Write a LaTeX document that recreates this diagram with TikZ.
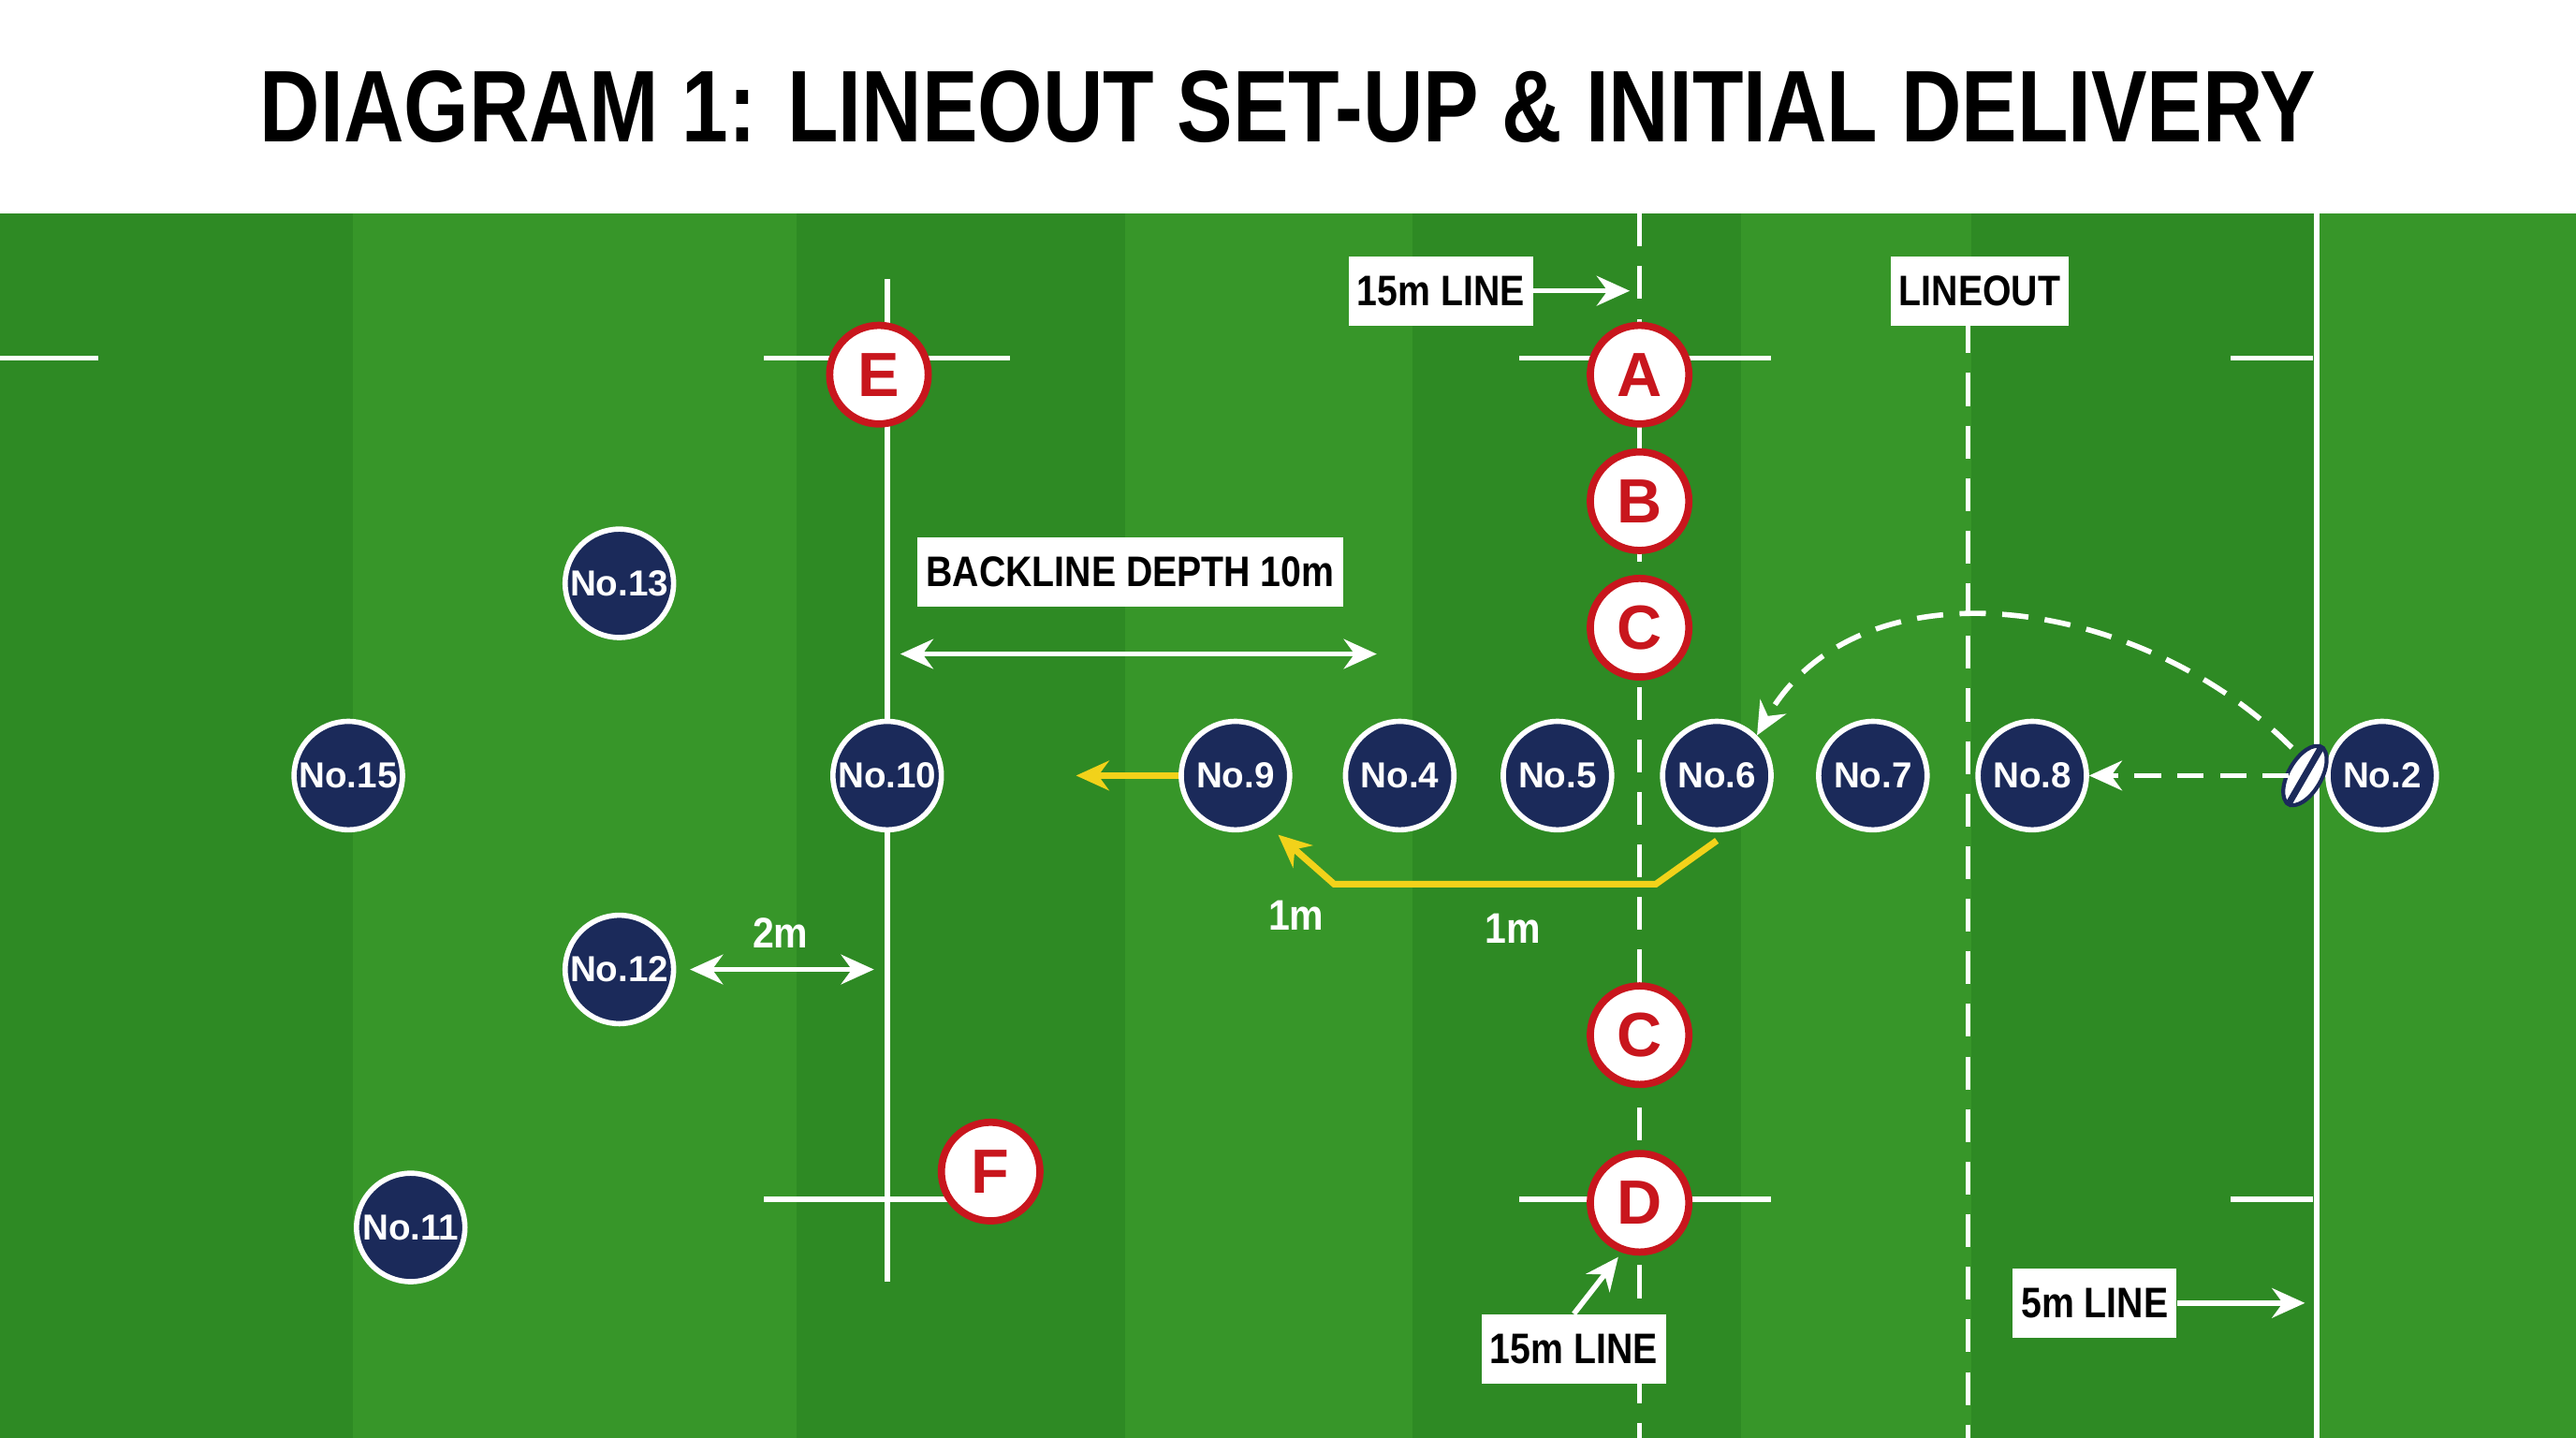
\documentclass[tikz,border=0pt]{standalone}
\usepackage{fontspec}
\setmainfont{Liberation Sans}
\usetikzlibrary{arrows.meta,shapes.geometric}
\definecolor{gA}{HTML}{2E8A24}
\definecolor{gB}{HTML}{379629}
\definecolor{navy}{HTML}{1B2A5A}
\definecolor{rred}{HTML}{C8161D}
\definecolor{yel}{HTML}{F2D21A}
\begin{document}
\begin{tikzpicture}[x=0.5pt,y=-0.5pt,
 red/.style={circle,draw=rred,line width=2.2pt,fill=white,minimum size=30pt,inner sep=0pt,text=rred,font=\bfseries\fontsize{19}{19}\selectfont},
 pl/.style={circle,draw=white,line width=1.6pt,fill=navy,minimum size=33pt,inner sep=0pt,text=white,font=\bfseries\fontsize{11}{11}\selectfont},
 lab/.style={fill=white,inner sep=3pt,minimum height=21pt,font=\bfseries\fontsize{13}{13}\selectfont,xscale=0.86},
 wl/.style={white,line width=1.6pt},
 wa/.style={white,line width=1.6pt,-{Stealth[length=10pt,width=9pt]}},
 ya/.style={yel,line width=2pt,-{Stealth[length=10pt,width=9pt]}}]
\useasboundingbox (0,0) rectangle (1568,875);
\fill[white] (0,0) rectangle (1568,130);
\node[font=\bfseries\fontsize{31}{31}\selectfont,xscale=0.82] (title) at (784,65) {DIAGRAM 1: LINEOUT SET-UP \& INITIAL DELIVERY};
\fill[gA] (0,130) rectangle (1568,875);
\foreach \a/\b in {215/485,685/860,1060/1200,1410/1568}{\fill[gB] (\a,130) rectangle (\b,875);}
% lines
\draw[wl] (540,170) -- (540,780);
\draw[wl] (0,218)--(60,218) (465,218)--(615,218) (925,218)--(1078,218) (1358,218)--(1408,218);
\draw[wl] (465,730)--(580,730) (925,730)--(1078,730) (1358,730)--(1408,730);
\draw[wl,dash pattern=on 10pt off 6pt] (998,130)--(998,875);
\draw[wl,dash pattern=on 10pt off 6pt] (1198,195)--(1198,875);
\draw[wl] (1410,130)--(1410,875);
% arrows
\coordinate (bl1) at (548,398); \coordinate (bl2) at (838,398);
\draw[white,line width=1.6pt,{Stealth[length=10pt,width=9pt]}-{Stealth[length=10pt,width=9pt]}] (bl1)--(bl2);
\coordinate (m1) at (420,590); \coordinate (m2) at (532,590);
\draw[white,line width=1.6pt,{Stealth[length=10pt,width=9pt]}-{Stealth[length=10pt,width=9pt]}] (m1)--(m2);
% players
\node[pl] (p13) at (377,355) {No.13};
\node[pl] (p15) at (212,472) {No.15};
\node[pl] (p10) at (540,472) {No.10};
\node[pl] (p9) at (752,472) {No.9};
\node[pl] (p4) at (852,472) {No.4};
\node[pl] (p5) at (948,472) {No.5};
\node[pl] (p6) at (1045,472) {No.6};
\node[pl] (p7) at (1140,472) {No.7};
\node[pl] (p8) at (1237,472) {No.8};
\node[pl] (p2) at (1450,472) {No.2};
\node[pl] (p12) at (377,590) {No.12};
\node[pl] (p11) at (250,747) {No.11};
\node[red] (E) at (535,228) {E};
\node[red] (A) at (998,228) {A};
\node[red] (B) at (998,305) {B};
\node[red] (C1) at (998,382) {C};
\node[red] (C2) at (998,630) {C};
\node[red] (D) at (998,732) {D};
\node[red] (F) at (603,713) {F};
% ball
\node[ellipse,draw=navy,fill=white,line width=1.2pt,minimum width=10pt,minimum height=20pt,inner sep=0pt,rotate=-30] (ball) at (1403,472) {};
\draw[navy,line width=2pt] (ball.north) -- (ball.south);
% labels
\node[lab] (l15a) at (877,177) {15m LINE};
\coordinate (l15at) at (992,177);
\draw[wa] (l15a.east)--(l15at);
\node[lab] (lo) at (1205,177) {LINEOUT};
\node[lab] (bd) at (688,348) {BACKLINE DEPTH 10m};
\node[text=white,font=\bfseries\fontsize{13}{13}\selectfont,xscale=0.9] (t2m) at (475,568) {2m};
\node[text=white,font=\bfseries\fontsize{13}{13}\selectfont,xscale=0.9] (t1a) at (789,557) {1m};
\node[text=white,font=\bfseries\fontsize{13}{13}\selectfont,xscale=0.9] (t1b) at (921,565) {1m};
\node[lab] (l15b) at (958,821) {15m LINE};
\coordinate (l15bt) at (985,765);
\draw[wa] (l15b.north)--(l15bt);
\node[lab] (l5) at (1275,793) {5m LINE};
\coordinate (l5t) at (1403,793);
\draw[wa] (l5.east)--(l5t);
% yellow
\coordinate (ya) at (655,472);
\draw[ya] (p9.west)--(ya);
\coordinate (yb1) at (1008,538); \coordinate (yb2) at (812,538); \coordinate (yb3) at (778,508);
\draw[ya] (p6.south) ++(0,5) -- (yb1)--(yb2)--(yb3);
% dashed
\draw[wa,dash pattern=on 8pt off 5pt] (ball.west |- p8) -- (p8.east);
\draw[wa,dash pattern=on 8pt off 5pt] (1395,455) .. controls (1300,360) and (1130,340) .. (p6.north east);
\end{tikzpicture}
\end{document}
